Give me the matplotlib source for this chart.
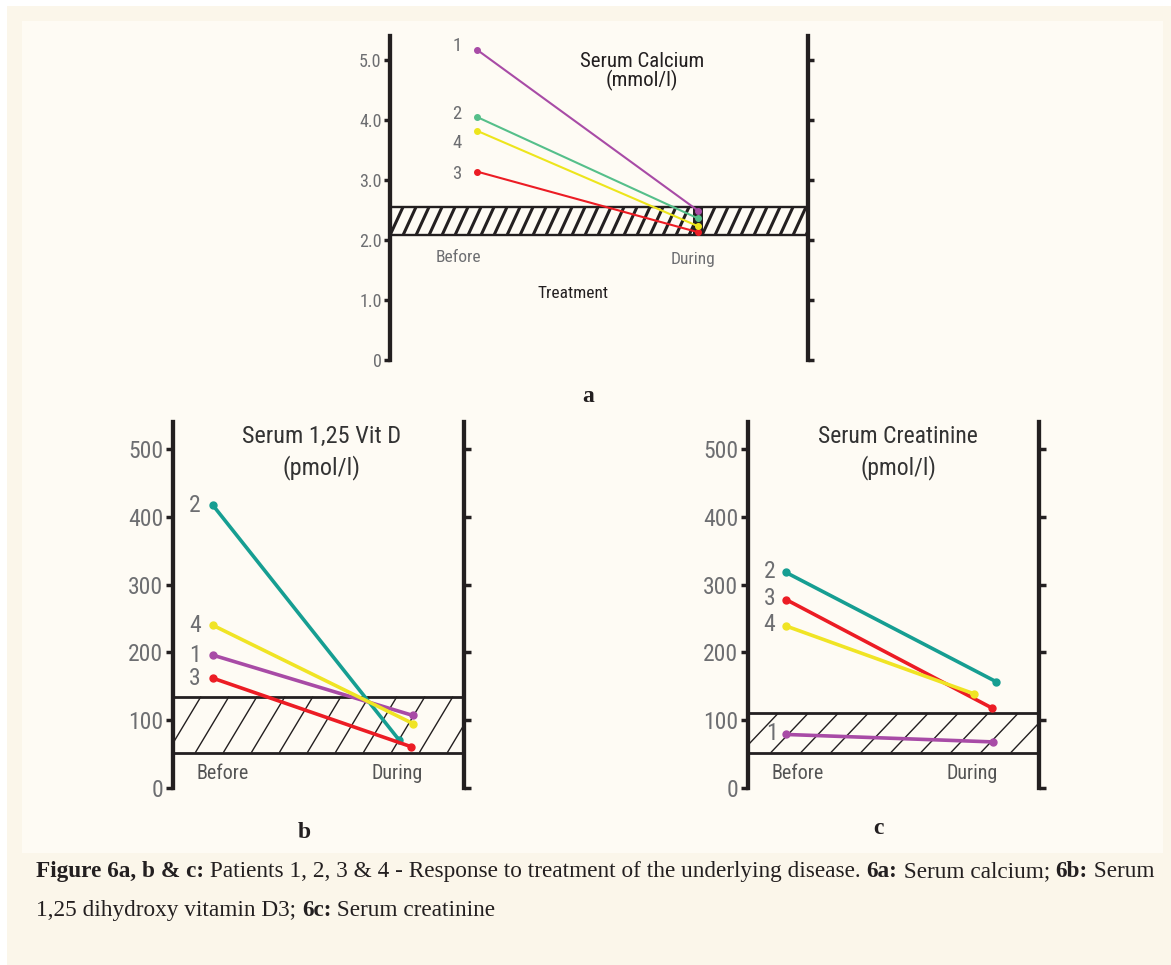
import matplotlib
matplotlib.use('Agg')
import matplotlib.pyplot as plt
from matplotlib import font_manager as fm
from matplotlib.font_manager import FontProperties
from matplotlib.patches import Rectangle
from matplotlib.lines import Line2D
from matplotlib.transforms import IdentityTransform
import numpy as np

W, H, DPI = 1171, 965, 100

# ---------------- data ----------------
patients = ['1', '2', '3', '4']

calcium_before = [5.17, 4.05, 3.14, 3.82]
calcium_during = [2.49, 2.36, 2.13, 2.23]
calcium_during_x = [1.0, 1.0, 1.0, 1.0]
calcium_ref = [2.08, 2.55]
calcium_ticks = [0, 1.0, 2.0, 3.0, 4.0, 5.0]
calcium_ticklabels = ['0', '1.0', '2.0', '3.0', '4.0', '5.0']

vitd_before = [196, 417, 162, 240]
vitd_during = [107, 71, 61, 95]
vitd_during_x = [1.0, 0.93, 0.99, 1.0]
vitd_ref = [52, 135]

creat_before = [79, 318, 278, 239]
creat_during = [68, 157, 118, 139]
creat_during_x = [1.0, 1.014, 0.995, 0.908]
creat_ref = [52, 110]

big_ticks = [0, 100, 200, 300, 400, 500]
big_ticklabels = ['0', '100', '200', '300', '400', '500']

stage_labels = ['Before', 'During']

# ---------------- fonts ----------------
def find_narrow():
    best, best_rank = None, 99
    order = ['liberation sans narrow', 'roboto condensed', 'dejavu sans',
             'open sans', 'noto sans', 'arial narrow']
    for f in fm.fontManager.ttflist:
        n = f.name.lower()
        if 'mono' in n or ('serif' in n and 'sans' not in n):
            continue
        if f.style != 'normal':
            continue
        w = f.weight
        if not (w in (400, 'normal', 'regular', 'book') or (isinstance(w, int) and 350 <= w <= 450)):
            continue
        st = f.stretch
        cond = ('narrow' in n or 'condensed' in n or
                (isinstance(st, str) and 'condensed' in st) or
                (isinstance(st, int) and st < 500))
        if not cond:
            continue
        rank = len(order)
        for i, o in enumerate(order):
            if n.startswith(o):
                rank = i
                break
        if rank < best_rank:
            best, best_rank = f.fname, rank
    return best


NARROW_FILE = find_narrow()


def fp(size):
    if NARROW_FILE:
        return FontProperties(fname=NARROW_FILE, size=size)
    return FontProperties(family='Liberation Sans', size=size * 0.84)


SERIF = 'Liberation Serif'

DARK = '#231f20'
GREY = '#6d6e71'
colors_a = {'1': '#a84ba6', '2': '#55bf8a', '3': '#ec1c24', '4': '#ede51c'}
colors_bc = {'1': '#a84ba6', '2': '#169e92', '3': '#ec1c24', '4': '#f0e424'}

fig = plt.figure(figsize=(W / DPI, H / DPI), dpi=DPI, facecolor='white')


def frac(l, t, r, b):
    return [l / W, 1 - b / H, (r - l) / W, (b - t) / H]


# background panels
fig.add_artist(Rectangle((7 / W, 0), 1 - 7 / W, 1 - 6 / H, transform=fig.transFigure,
                         facecolor='#fbf6ea', edgecolor='none', zorder=-10))
fig.add_artist(Rectangle((22 / W, 1 - 853 / H), (1163 - 22) / W, (853 - 21) / H,
                         transform=fig.transFigure, facecolor='#fefbf4',
                         edgecolor='none', zorder=-9))


def setup_axes(rect, xlim, ylim, ticks, ticklabels, labelsize, spine_w, tick_len):
    ax = fig.add_axes(frac(*rect))
    ax.set_facecolor('none')
    ax.set_xlim(*xlim)
    ax.set_ylim(*ylim)
    for s in ['top', 'bottom']:
        ax.spines[s].set_visible(False)
    for s in ['left', 'right']:
        ax.spines[s].set_linewidth(spine_w)
        ax.spines[s].set_color(DARK)
    ax.set_xticks([])
    ax.tick_params(axis='y', left=True, right=True, labelleft=True, labelright=False,
                   direction='out', length=tick_len, width=spine_w * 0.8, color=DARK,
                   pad=2, labelcolor=GREY)
    ax.set_yticks(ticks)
    ax.set_yticklabels(ticklabels, fontproperties=fp(labelsize))
    return ax


def hatch_band(ax, y0, y1, spacing, shift_ratio, lw, edge_lw):
    xmin, xmax = ax.get_xlim()
    rect = Rectangle((xmin, y0), xmax - xmin, y1 - y0, fill=False, lw=0,
                     transform=ax.transData)
    ax.add_patch(rect)
    p0 = ax.transData.transform((xmin, y0))
    p1 = ax.transData.transform((xmax, y1))
    h = p1[1] - p0[1]
    shift = h * shift_ratio
    for xs in np.arange(p0[0] - shift, p1[0] + spacing, spacing):
        ln = Line2D([xs, xs + shift], [p0[1], p1[1]], transform=IdentityTransform(),
                    lw=lw, color=DARK, zorder=1, solid_capstyle='butt')
        ln.set_clip_path(rect)
        ax.add_line(ln)
    for yy in (y0, y1):
        ax.plot([xmin, xmax], [yy, yy], color=DARK, lw=edge_lw, zorder=1.5,
                solid_capstyle='butt')


def draw_series(ax, before, during, during_x, cols, lw, ms):
    for p, b, d, dx in zip(patients, before, during, during_x):
        ax.plot([0, dx], [b, d], color=cols[p], lw=lw, marker='o', ms=ms,
                zorder=3, solid_capstyle='round')


# ---------------- panel a ----------------
ax_a = setup_axes((390, 36, 808, 360), (-0.394, 1.498), (0, 5.4), calcium_ticks,
                  calcium_ticklabels, 13, 3.1, 4)
hatch_band(ax_a, calcium_ref[0], calcium_ref[1], 13.0, 0.46, 2.2, 1.7)
ax_a.add_patch(Rectangle((0.977, calcium_ref[0]), 0.046, calcium_ref[1] - calcium_ref[0],
                         facecolor=DARK, edgecolor='none', zorder=2))
draw_series(ax_a, calcium_before, calcium_during, calcium_during_x, colors_a, 1.5, 4)
label_off_a = {'1': 3, '2': 2, '3': -2, '4': -9}
for p, v in zip(patients, calcium_before):
    ax_a.annotate(p, xy=(0, v), xytext=(-14.5, label_off_a[p]), textcoords='offset points',
                  ha='center', va='center', fontproperties=fp(13.5), color=GREY)
ax_a.text(0.747, 4.97, 'Serum Calcium', ha='center', va='center',
          fontproperties=fp(15), color=DARK)
ax_a.text(0.747, 4.66, '(mmol/l)', ha='center', va='center',
          fontproperties=fp(15), color=DARK)
ax_a.text(-0.086, 1.7, stage_labels[0], ha='center', va='center',
          fontproperties=fp(12.5), color=GREY)
ax_a.text(0.977, 1.67, stage_labels[1], ha='center', va='center',
          fontproperties=fp(12.5), color=GREY)
ax_a.text(0.434, 1.1, 'Treatment', ha='center', va='center',
          fontproperties=fp(12.5), color=DARK)

# ---------------- panel b ----------------
ax_b = setup_axes((173, 422, 464, 788), (-0.2, 1.255), (0, 540), big_ticks,
                  big_ticklabels, 17, 3.1, 5)
hatch_band(ax_b, vitd_ref[0], vitd_ref[1], 28.0, 0.6, 1.0, 2.0)
draw_series(ax_b, vitd_before, vitd_during, vitd_during_x, colors_bc, 2.6, 5)
for p, v in zip(patients, vitd_before):
    ax_b.annotate(p, xy=(0, v), xytext=(-13, 0), textcoords='offset points',
                  ha='center', va='center', fontproperties=fp(17), color=GREY)
ax_b.text(0.545, 518, 'Serum 1,25 Vit D', ha='center', va='center',
          fontproperties=fp(17.5), color='#333333')
ax_b.text(0.545, 473, '(pmol/l)', ha='center', va='center',
          fontproperties=fp(17.5), color='#333333')
ax_b.text(0.05, 22, stage_labels[0], ha='center', va='center',
          fontproperties=fp(14.5), color='#555555')
ax_b.text(0.92, 22, stage_labels[1], ha='center', va='center',
          fontproperties=fp(14.5), color='#555555')

# ---------------- panel c ----------------
ax_c = setup_axes((748, 422, 1039, 788), (-0.184, 1.222), (0, 540), big_ticks,
                  big_ticklabels, 17, 3.1, 5)
hatch_band(ax_c, creat_ref[0], creat_ref[1], 30.0, 0.95, 1.0, 2.0)
draw_series(ax_c, creat_before, creat_during, creat_during_x, colors_bc, 2.6, 5)
label_dx_c = {'1': -10, '2': -12, '3': -12, '4': -12}
for p, v in zip(patients, creat_before):
    ax_c.annotate(p, xy=(0, v), xytext=(label_dx_c[p], 1), textcoords='offset points',
                  ha='center', va='center', fontproperties=fp(17), color=GREY)
ax_c.text(0.541, 518, 'Serum Creatinine', ha='center', va='center',
          fontproperties=fp(17), color='#333333')
ax_c.text(0.541, 473, '(pmol/l)', ha='center', va='center',
          fontproperties=fp(17), color='#333333')
ax_c.text(0.058, 22, stage_labels[0], ha='center', va='center',
          fontproperties=fp(14.5), color='#555555')
ax_c.text(0.90, 22, stage_labels[1], ha='center', va='center',
          fontproperties=fp(14.5), color='#555555')

# ---------------- panel letters ----------------
for letter, (x, y) in zip(['a', 'b', 'c'], [(588, 397), (304, 832), (878, 828)]):
    fig.text(x / W, 1 - y / H, letter, ha='center', va='center', fontsize=17,
             fontweight='bold', family=SERIF, color=DARK)

# ---------------- caption ----------------
caption_lines = [
    [("Figure 6a, b & c:", True),
     (" Patients 1, 2, 3 & 4 - Response to treatment of the underlying disease. ", False),
     ("6a:", True), (" Serum calcium; ", False), ("6b:", True), (" Serum", False)],
    [("1,25 dihydroxy vitamin D3; ", False), ("6c:", True), (" Serum creatinine", False)],
]
renderer = fig.canvas.get_renderer()
for (segments, ypx) in zip(caption_lines, [877, 916]):
    x = 36.0
    for txt, bold in segments:
        t = fig.text(x / W, 1 - ypx / H, txt, ha='left', va='baseline', fontsize=16.75,
                     fontweight='bold' if bold else 'normal', family=SERIF, color=DARK)
        bb = t.get_window_extent(renderer=renderer)
        x = bb.x1

fig.savefig('out.png', dpi=DPI)
